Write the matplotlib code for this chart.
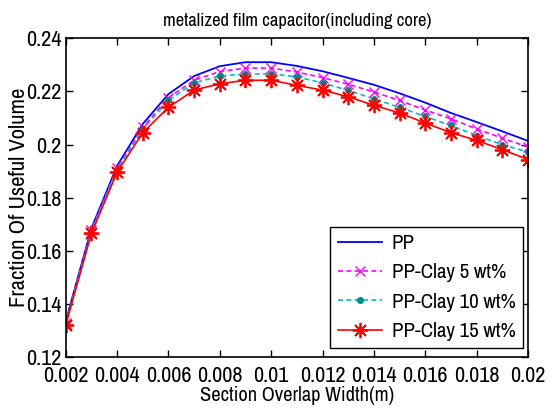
import matplotlib
matplotlib.use("Agg")
import matplotlib.pyplot as plt

plt.rcParams['font.family'] = ['Archivo Narrow', 'Roboto Condensed', 'DejaVu Sans']

# Section overlap width (m)
width_m = [0.002, 0.003, 0.004, 0.005, 0.006, 0.007, 0.008, 0.009, 0.010, 0.011,
           0.012, 0.013, 0.014, 0.015, 0.016, 0.017, 0.018, 0.019, 0.020]

# Fraction of useful volume for each dielectric
pp = [0.1335, 0.1685, 0.1920, 0.2078, 0.2190, 0.2258, 0.2295, 0.2310, 0.2310, 0.2296,
      0.2276, 0.2251, 0.2225, 0.2193, 0.2158, 0.2119, 0.2085, 0.2050, 0.2014]
pp_clay5 = [0.1330, 0.1678, 0.1912, 0.2065, 0.2176, 0.2242, 0.2275, 0.2288, 0.2288, 0.2273,
            0.2252, 0.2227, 0.2198, 0.2166, 0.2130, 0.2097, 0.2059, 0.2024, 0.1991]
pp_clay10 = [0.1327, 0.1673, 0.1905, 0.2058, 0.2166, 0.2232, 0.2258, 0.2266, 0.2266, 0.2255,
             0.2232, 0.2204, 0.2172, 0.2140, 0.2106, 0.2072, 0.2034, 0.2000, 0.1972]
pp_clay15 = [0.1321, 0.1666, 0.1896, 0.2045, 0.2140, 0.2205, 0.2229, 0.2242, 0.2242, 0.2223,
             0.2205, 0.2180, 0.2148, 0.2119, 0.2081, 0.2045, 0.2016, 0.1981, 0.1944]

labels = ['PP', 'PP-Clay 5 wt%', 'PP-Clay 10 wt%', 'PP-Clay 15 wt%']
xticks = [0.002, 0.004, 0.006, 0.008, 0.01, 0.012, 0.014, 0.016, 0.018, 0.02]
xticklabels = ['0.002', '0.004', '0.006', '0.008', '0.01', '0.012', '0.014', '0.016', '0.018', '0.02']
yticks = [0.12, 0.14, 0.16, 0.18, 0.2, 0.22, 0.24]
yticklabels = ['0.12', '0.14', '0.16', '0.18', '0.2', '0.22', '0.24']

fig = plt.figure(figsize=(5.56, 4.17), dpi=100)
ax = fig.add_axes([0.1182, 0.1432, 0.8314, 0.7650])

# 8-armed asterisk (plus and cross combined)
asterisk = (8, 2, 0)

ax.plot(width_m, pp, color='#0000ff', lw=1.3, label=labels[0])
ax.plot(width_m, pp_clay5, color='#ff00ff', lw=1.2, ls=(0, (3, 2)), marker='x',
        ms=6.5, mew=1.0, label=labels[1])
ax.plot(width_m, pp_clay10, color='#00c0c0', lw=1.2, ls=(0, (3, 2)), marker='.',
        ms=8, mfc='#008b8b', mec='#008b8b', label=labels[2])
ax.plot(width_m, pp_clay15, color='#ff0000', lw=1.2, ls='-', marker=asterisk,
        ms=11, mew=1.3, label=labels[3])

ax.set_xlim(0.002, 0.02)
ax.set_ylim(0.12, 0.24)
ax.set_xticks(xticks)
ax.set_xticklabels(xticklabels)
ax.set_yticks(yticks)
ax.set_yticklabels(yticklabels)
ax.tick_params(direction='in', top=True, right=True, length=5, width=1,
               labelsize=16)
ax.tick_params(axis='x', pad=6)
ax.tick_params(axis='y', pad=3)
for sp in ax.spines.values():
    sp.set_linewidth(1.2)

ax.set_title('metalized film capacitor(including core)', fontsize=13.4, pad=9)
ax.set_xlabel('Section Overlap Width(m)', fontsize=14.7, labelpad=0)
ax.set_ylabel('Fraction Of Useful Volume', fontsize=16.3, labelpad=-2)

leg = ax.legend(loc='lower right', fontsize=15, fancybox=False, edgecolor='black',
                framealpha=1, borderpad=0.35, borderaxespad=0, handlelength=2.15,
                handletextpad=0.45, labelspacing=0.5, bbox_to_anchor=(0.989, 0.028))
leg.get_frame().set_linewidth(1.0)

fig.savefig('out.png', dpi=100)
